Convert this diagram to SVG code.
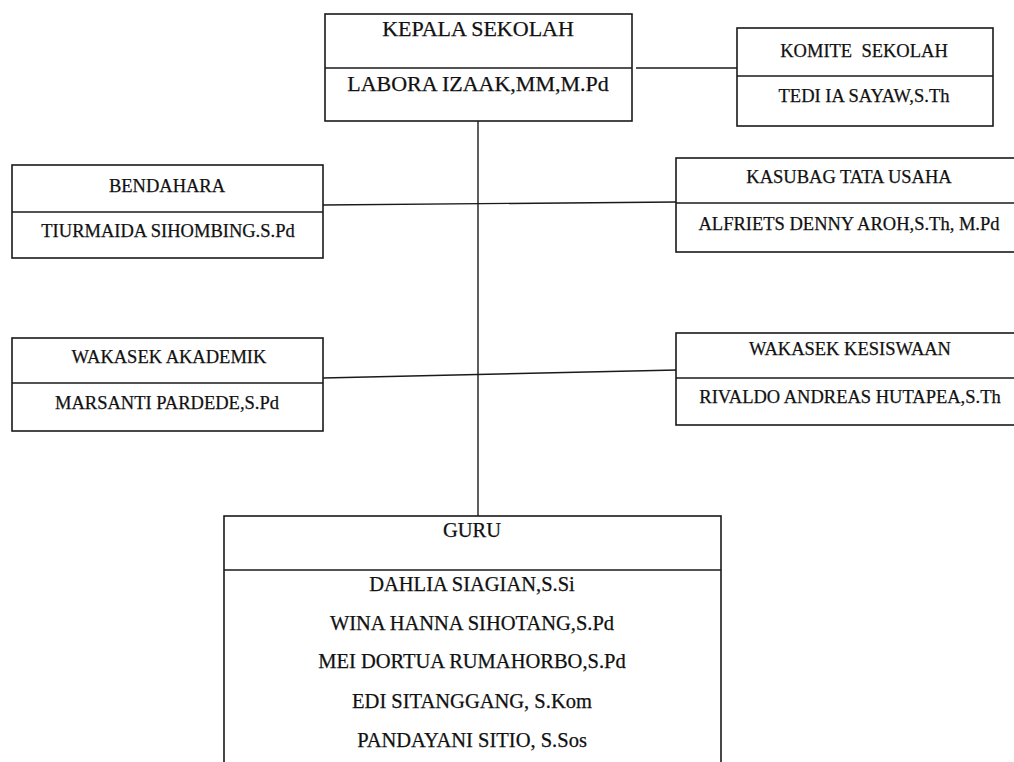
<svg xmlns="http://www.w3.org/2000/svg" width="1014" height="762" viewBox="0 0 1014 762">
<style>
.box{fill:#fff;stroke:#1a1a1a;stroke-width:1.6}
.div{stroke:#1a1a1a;stroke-width:1.6}
.con{stroke:#1a1a1a;stroke-width:1.4;fill:none}
text{font-family:"Liberation Serif","Times New Roman",serif;fill:#111;stroke:#111;stroke-width:0.25;text-anchor:middle}
.t22{font-size:22px}
.t21{font-size:20.5px}
.t19{font-size:18.5px}
</style>
<rect width="1014" height="762" fill="#fff"/>
<g id="connectors">
<line class="con" x1="478" y1="121" x2="478" y2="516"/>
<line class="con" x1="636" y1="68" x2="749" y2="68"/>
<line class="con" x1="323" y1="205" x2="677" y2="202"/>
<line class="con" x1="323" y1="378" x2="677" y2="370"/>
</g>
<g id="kepala">
<rect class="box" x="325" y="14" width="307" height="107"/>
<line class="div" x1="325" y1="68" x2="632" y2="68"/>
<text class="t22" x="478" y="36">KEPALA SEKOLAH</text>
<text class="t22" x="478" y="91">LABORA IZAAK,MM,M.Pd</text>
</g>
<g id="komite">
<rect class="box" x="737" y="28" width="256" height="98"/>
<line class="div" x1="737" y1="76" x2="993" y2="76"/>
<text class="t19" x="864" y="57" xml:space="preserve">KOMITE  SEKOLAH</text>
<text class="t19" x="864" y="102">TEDI IA SAYAW,S.Th</text>
</g>
<g id="bendahara">
<rect class="box" x="12" y="165" width="311" height="93"/>
<line class="div" x1="12" y1="212" x2="323" y2="212"/>
<text class="t19" x="167" y="192">BENDAHARA</text>
<text class="t19" x="168" y="237">TIURMAIDA SIHOMBING.S.Pd</text>
</g>
<g id="kasubag">
<rect class="box" x="676" y="158" width="348" height="94"/>
<line class="div" x1="676" y1="203" x2="1024" y2="203"/>
<text class="t19" x="849" y="183">KASUBAG TATA USAHA</text>
<text class="t19" x="849" y="230">ALFRIETS DENNY AROH,S.Th, M.Pd</text>
</g>
<g id="wakasek-akademik">
<rect class="box" x="12" y="338" width="311" height="93"/>
<line class="div" x1="12" y1="383" x2="323" y2="383"/>
<text class="t19" x="169" y="363">WAKASEK AKADEMIK</text>
<text class="t19" x="167" y="409">MARSANTI PARDEDE,S.Pd</text>
</g>
<g id="wakasek-kesiswaan">
<rect class="box" x="676" y="333" width="348" height="92"/>
<line class="div" x1="676" y1="378" x2="1024" y2="378"/>
<text class="t19" x="850" y="355">WAKASEK KESISWAAN</text>
<text class="t19" x="850" y="403">RIVALDO ANDREAS HUTAPEA,S.Th</text>
</g>
<g id="guru">
<rect class="box" x="224" y="516" width="497" height="260"/>
<line class="div" x1="224" y1="570" x2="721" y2="570"/>
<text class="t21" x="472" y="537">GURU</text>
<text class="t21" x="472" y="591">DAHLIA SIAGIAN,S.Si</text>
<text class="t21" x="472" y="630">WINA HANNA SIHOTANG,S.Pd</text>
<text class="t21" x="472" y="668">MEI DORTUA RUMAHORBO,S.Pd</text>
<text class="t21" x="472" y="708">EDI SITANGGANG, S.Kom</text>
<text class="t21" x="472" y="747">PANDAYANI SITIO, S.Sos</text>
</g>
</svg>
